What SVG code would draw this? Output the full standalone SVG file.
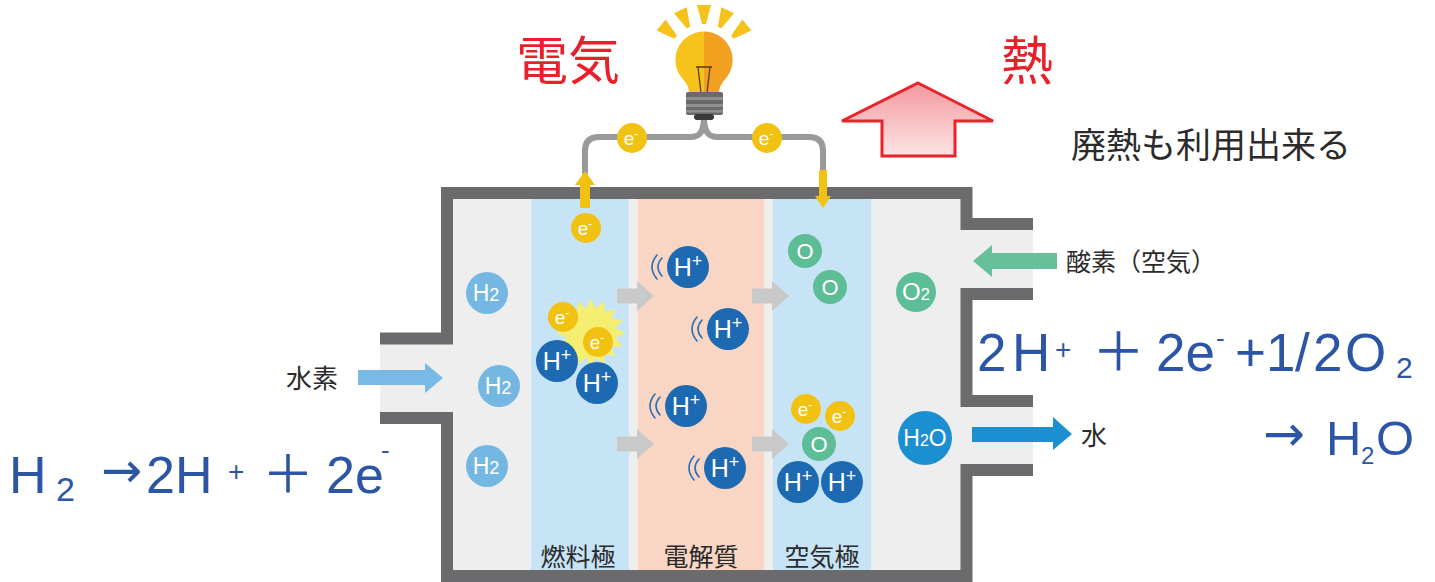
<svg xmlns="http://www.w3.org/2000/svg" width="1435" height="582" viewBox="0 0 1435 582">
  <defs>
    <linearGradient id="heatFill" x1="0" y1="0" x2="0" y2="1">
      <stop offset="0" stop-color="#f2989e"/>
      <stop offset="1" stop-color="#fde5e5"/>
    </linearGradient>
    <style>
      .wall { fill: none; stroke: #6b6a6c; stroke-width: 12; stroke-linejoin: miter; }
      .room { fill: #eeeeee; }
      .elec { fill: #c6e4f6; }
      .lyte { fill: #f9d6c4; }
      .h2 { fill: #74b7e3; }
      .hp { fill: #1d6ab2; }
      .el { fill: #f2c212; }
      .ox { fill: #5dbd96; }
      .wt { fill: #1c8fd0; }
      .ct { font-family: "Liberation Sans", Arial, sans-serif; fill: #ffffff; text-anchor: middle; }
      .wave { fill: none; stroke: #2a70b5; stroke-width: 1.6; stroke-linecap: round; }
      .flow { fill: #c9c9c9; }
      .wire { fill: none; stroke: #9a9a9a; stroke-width: 6; }
      .jp { font-family: "Noto Sans CJK JP", sans-serif; fill: #2b2b2b; }
      .red { font-family: "Noto Sans CJK JP", sans-serif; fill: #e62129; font-size: 52px; }
      .eq { font-family: "Liberation Sans", Arial, sans-serif; fill: #2d55a6; }
      .arw { font-family: "DejaVu Sans", sans-serif; }
      .fw { font-family: "Noto Sans CJK JP", sans-serif; }
    </style>
  </defs>

  <rect width="1435" height="582" fill="#ffffff"/>

  <!-- cell housing -->
  <g id="housing">
    <rect class="room" x="447" y="193" width="520" height="383"/>
    <rect class="room" x="380" y="338" width="67" height="80"/>
    <rect class="room" x="966" y="224" width="67" height="70"/>
    <rect class="room" x="966" y="401" width="67" height="69"/>
    <rect id="anode" class="elec" x="531" y="199" width="98" height="371"/>
    <rect id="electrolyte" class="lyte" x="638" y="199" width="126" height="371"/>
    <rect id="cathode" class="elec" x="773" y="199" width="98" height="371"/>
    <path class="wall" d="M380,338.5 H447 V193 H966.5 V224 H1033"/>
    <path class="wall" d="M1033,294 H966.5 V401 H1033"/>
    <path class="wall" d="M1033,470 H966.5 V576 H447 V418 H380"/>
  </g>

  <!-- layer labels -->
  <g id="labels" class="jp" font-size="25" text-anchor="middle">
    <text x="578" y="566">燃料極</text>
    <text x="701" y="566">電解質</text>
    <text x="822" y="566">空気極</text>
  </g>

  <!-- connectors: wires, flow arrows -->
  <g id="connectors">
    <path class="wire" d="M704,116 C704,132 700,137 690,137 H599 Q585,137 585,151 V174"/>
    <path class="wire" d="M704,116 C704,132 708,137 718,137 H809 Q823,137 823,151 V172"/>
    <polygon fill="#f2c212" points="585,171 595,185 590,185 590,208 580,208 580,185 575,185"/>
    <polygon fill="#f2c212" points="819,170 827,170 827,196 831,196 823,208 815,196 819,196"/>
    <polygon class="flow" points="617,288.5 637,288.5 637,281 654,296 637,311 637,303.5 617,303.5"/>
    <polygon class="flow" points="752,288.5 772,288.5 772,281 789,296 772,311 772,303.5 752,303.5"/>
    <polygon class="flow" points="617,436.5 637,436.5 637,429 654,444 637,459 637,451.5 617,451.5"/>
    <polygon class="flow" points="752,436.5 772,436.5 772,429 789,444 772,459 772,451.5 752,451.5"/>
    <polygon fill="#78b9e5" points="358,370 425,370 425,363 443,378 425,393 425,385 358,385"/>
    <polygon fill="#68bf9b" points="973,261 992,245 992,253 1057,253 1057,269 992,269 992,277"/>
    <polygon fill="#1c8fd0" points="972,427 1053,427 1053,417 1072,434 1053,450 1053,442 972,442"/>
    <polygon fill="url(#heatFill)" stroke="#e8232a" stroke-width="3" stroke-linejoin="miter" points="918,83 993,121 955,121 955,156 882,156 882,121 842,121"/>
  </g>

  <!-- light bulb -->
  <g id="bulb">
    <g fill="#f5c21a">
      <polygon points="702,24 706,24 711,5 697,5"/>
      <polygon points="721.4,28.3 717.8,26.7 721.4,7.3 734,13.3"/>
      <polygon points="733.6,38.7 731,35.7 742.4,19.6 751.4,30.4"/>
      <polygon points="686.6,28.3 690.2,26.7 686.6,7.3 674,13.3"/>
      <polygon points="674.4,38.7 677,35.7 665.6,19.6 656.6,30.4"/>
    </g>
    <path fill="#f6c31c" d="M704,31.5 A28.5,28.5 0 0 0 683.8,80.2 Q689,86 689,93 H704 Z"/>
    <path fill="#f1a020" d="M704,31.5 A28.5,28.5 0 0 1 724.2,80.2 Q719,86 719,93 H704 Z"/>
    <path fill="none" stroke="#5b3d12" stroke-width="1.3" d="M696,67 H712 M698,67 L701,93 M710,67 L707,93"/>
    <rect x="686" y="92" width="37" height="23" rx="2" fill="#6a6a6a"/>
    <g fill="#8f8f8f">
      <rect x="686" y="97" width="37" height="3"/>
      <rect x="686" y="104" width="37" height="3"/>
      <rect x="686" y="110" width="37" height="2.5"/>
    </g>
    <rect x="694" y="114" width="20" height="6" rx="3" fill="#3a3a3a"/>
  </g>

  <!-- electrons -->
  <g id="electron-wire-left">
    <circle class="el" cx="632" cy="138" r="15"/>
    <text class="ct" x="631" y="145" font-size="19">e<tspan font-size="12" dy="-7">-</tspan></text>
  </g>
  <g id="electron-wire-right">
    <circle class="el" cx="767" cy="138" r="15"/>
    <text class="ct" x="766" y="145" font-size="19">e<tspan font-size="12" dy="-7">-</tspan></text>
  </g>
  <g id="electron-anode-top">
    <circle class="el" cx="586" cy="228" r="15"/>
    <text class="ct" x="585" y="235" font-size="19">e<tspan font-size="12" dy="-7">-</tspan></text>
  </g>

  <!-- hydrogen side -->
  <g id="h2-a">
    <circle class="h2" cx="487" cy="293" r="21"/>
    <text class="ct" x="486" y="301" font-size="23">H<tspan font-size="18">2</tspan></text>
  </g>
  <g id="h2-b">
    <circle class="h2" cx="499" cy="386" r="21"/>
    <text class="ct" x="498" y="394" font-size="23">H<tspan font-size="18">2</tspan></text>
  </g>
  <g id="h2-c">
    <circle class="h2" cx="487" cy="466" r="21"/>
    <text class="ct" x="486" y="474" font-size="23">H<tspan font-size="18">2</tspan></text>
  </g>

  <!-- reaction at the fuel electrode -->
  <g id="anode-reaction">
    <polygon fill="#f6ee72" points="625,333 615.5,337.9 622.4,346 611.8,346.9 615,357 604.9,353.8 604,364.4 595.9,357.5 591,367 586.1,357.5 578,364.4 577.1,353.8 567,357 570.2,346.9 559.6,346 566.5,337.9 557,333 566.5,328.1 559.6,320 570.2,319.1 567,309 577.1,312.2 578,301.6 586.1,308.5 591,299 595.9,308.5 604,301.6 604.9,312.2 615,309 611.8,319.1 622.4,320 615.5,328.1"/>
    <circle class="el" cx="563" cy="317" r="15"/>
    <text class="ct" x="562" y="324" font-size="19">e<tspan font-size="12" dy="-7">-</tspan></text>
    <circle class="el" cx="598" cy="342" r="15"/>
    <text class="ct" x="597" y="349" font-size="19">e<tspan font-size="12" dy="-7">-</tspan></text>
    <circle class="hp" cx="557" cy="361" r="21"/>
    <text class="ct" x="557" y="370" font-size="25">H<tspan font-size="18" dy="-9">+</tspan></text>
    <circle class="hp" cx="597" cy="383" r="21"/>
    <text class="ct" x="597" y="392" font-size="25">H<tspan font-size="18" dy="-9">+</tspan></text>
  </g>

  <!-- protons moving through the electrolyte -->
  <g id="proton-1">
    <path class="wave" d="M662,258 Q654,267 662,276 M657,255 Q647,267 657,279"/>
    <circle class="hp" cx="688" cy="267" r="21"/>
    <text class="ct" x="688" y="276" font-size="25">H<tspan font-size="18" dy="-9">+</tspan></text>
  </g>
  <g id="proton-2">
    <path class="wave" d="M702,320 Q694,329 702,338 M697,317 Q687,329 697,341"/>
    <circle class="hp" cx="728" cy="329" r="21"/>
    <text class="ct" x="728" y="338" font-size="25">H<tspan font-size="18" dy="-9">+</tspan></text>
  </g>
  <g id="proton-3">
    <path class="wave" d="M660,397 Q652,406 660,415 M655,394 Q645,406 655,418"/>
    <circle class="hp" cx="686" cy="406" r="21"/>
    <text class="ct" x="686" y="415" font-size="25">H<tspan font-size="18" dy="-9">+</tspan></text>
  </g>
  <g id="proton-4">
    <path class="wave" d="M699,459 Q691,468 699,477 M694,456 Q684,468 694,480"/>
    <circle class="hp" cx="725" cy="468" r="21"/>
    <text class="ct" x="725" y="477" font-size="25">H<tspan font-size="18" dy="-9">+</tspan></text>
  </g>

  <!-- air electrode -->
  <g id="oxygen-atoms">
    <circle class="ox" cx="805" cy="251" r="17"/>
    <text class="ct" x="805" y="259" font-size="22">O</text>
    <circle class="ox" cx="830" cy="287" r="17"/>
    <text class="ct" x="830" y="295" font-size="22">O</text>
  </g>
  <g id="cathode-reaction">
    <circle class="el" cx="806" cy="409" r="15"/>
    <text class="ct" x="805" y="416" font-size="19">e<tspan font-size="12" dy="-7">-</tspan></text>
    <circle class="el" cx="840" cy="416" r="15"/>
    <text class="ct" x="839" y="423" font-size="19">e<tspan font-size="12" dy="-7">-</tspan></text>
    <circle class="ox" cx="819" cy="444" r="17"/>
    <text class="ct" x="819" y="452" font-size="22">O</text>
    <circle class="hp" cx="798" cy="482" r="21"/>
    <text class="ct" x="798" y="491" font-size="25">H<tspan font-size="18" dy="-9">+</tspan></text>
    <circle class="hp" cx="842" cy="482" r="21"/>
    <text class="ct" x="842" y="491" font-size="25">H<tspan font-size="18" dy="-9">+</tspan></text>
  </g>
  <g id="o2">
    <circle class="ox" cx="916" cy="292" r="20"/>
    <text class="ct" x="916" y="300" font-size="24">O<tspan font-size="17">2</tspan></text>
  </g>
  <g id="h2o">
    <circle class="wt" cx="925" cy="438" r="27"/>
    <text class="ct" x="925" y="446" font-size="23">H<tspan font-size="16">2</tspan>O</text>
  </g>

  <!-- inlet / outlet names -->
  <g id="inlet-labels" class="jp">
    <text x="286" y="388" font-size="26">水素</text>
    <text x="1066" y="271" font-size="25">酸素（空気）</text>
    <text x="1081" y="445" font-size="26">水</text>
  </g>

  <!-- outputs -->
  <g id="outputs">
    <text class="red" x="516" y="80">電気</text>
    <text class="red" x="1001" y="80">熱</text>
    <text class="jp" x="1071" y="158" font-size="35">廃熱も利用出来る</text>
  </g>

  <!-- half reactions -->
  <text id="eq-anode" class="eq" font-size="52"><tspan x="9" y="493">H</tspan><tspan x="56" y="501" font-size="34">2</tspan><tspan class="arw" x="101" y="487" font-size="49">→</tspan><tspan x="146" y="493">2H</tspan><tspan x="228" y="481" font-size="28">+</tspan><tspan class="fw" x="262" y="493">＋</tspan><tspan x="326" y="493">2e</tspan><tspan x="381" y="459" font-size="26">-</tspan></text>

  <text id="eq-cathode" class="eq" font-size="53"><tspan x="977" y="371">2</tspan><tspan x="1012" y="371">H</tspan><tspan x="1055" y="359" font-size="28">+</tspan><tspan class="fw" x="1092" y="371">＋</tspan><tspan x="1156" y="371">2e</tspan><tspan x="1216" y="347" font-size="26">-</tspan><tspan x="1235" y="371">+</tspan><tspan x="1266" y="371">1</tspan><tspan x="1295" y="371">/</tspan><tspan x="1313" y="371">2</tspan><tspan x="1345" y="371">O</tspan><tspan x="1396" y="378" font-size="30">2</tspan></text>

  <text id="eq-product" class="eq" font-size="49"><tspan class="arw" x="1263" y="451" font-size="50">→</tspan><tspan x="1326" y="455">H</tspan><tspan x="1361" y="464" font-size="24">2</tspan><tspan x="1376" y="455">O</tspan></text>
</svg>
